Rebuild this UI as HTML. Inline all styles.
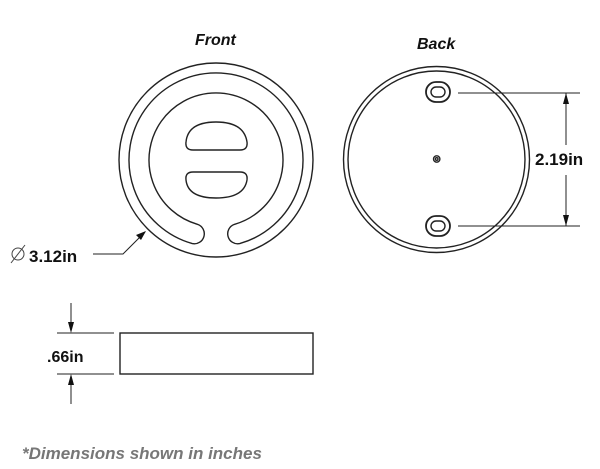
<!DOCTYPE html>
<html><head><style>
html,body{margin:0;padding:0;background:#fff;}
svg{display:block;}
</style></head><body>
<svg width="600" height="469" viewBox="0 0 600 469" xmlns="http://www.w3.org/2000/svg">
<g fill="none" stroke="#222" stroke-width="1.4">
<circle cx="216" cy="160" r="97"/>
<path d="M192.3 243.6 A87 87 0 1 1 239.7 243.6 A10 10 0 0 1 234.3 224.4 A67 67 0 1 0 197.7 224.4 A10 10 0 0 1 192.3 243.6 Z"/>
<path d="M193 150 L240 150 Q248 150 247 142 Q244 122 216 122 Q188 122 186 142 Q185 150 193 150 Z"/>
<path d="M193 172 L240 172 Q248 172 247 180 Q244 198 216 198 Q188 198 186 180 Q185 172 193 172 Z"/>
<circle cx="436.5" cy="159.5" r="93"/>
<circle cx="436.5" cy="159.5" r="88.5"/>
<rect x="426" y="82" width="24" height="20" rx="10" stroke-width="1.8"/>
<rect x="431" y="87" width="14" height="10" rx="5"/>
<rect x="426" y="216" width="24" height="20" rx="10" stroke-width="1.8"/>
<rect x="431" y="221" width="14" height="10" rx="5"/>
<circle cx="436.7" cy="159" r="3.2"/>
<circle cx="436.7" cy="159" r="1.3"/>
<line x1="458" y1="93" x2="580" y2="93" stroke-width="1"/>
<line x1="458" y1="226" x2="580" y2="226" stroke-width="1"/>
<line x1="566" y1="93" x2="566" y2="145" stroke-width="1"/>
<line x1="566" y1="175" x2="566" y2="226" stroke-width="1"/>
<polyline points="93,254 123,254 145,232" stroke-width="1"/>
<rect x="120" y="333" width="193" height="41"/>
<line x1="57" y1="333" x2="114" y2="333" stroke-width="1"/>
<line x1="57" y1="374" x2="114" y2="374" stroke-width="1"/>
<line x1="71" y1="303" x2="71" y2="325" stroke-width="1"/>
<line x1="71" y1="382" x2="71" y2="404" stroke-width="1"/>
</g>
<g fill="#111">
<polygon points="566,93 563,104 569,104"/>
<polygon points="566,226 563,215 569,215"/>
<polygon points="146,231 136,235 141,240"/>
<polygon points="71,333 68,322 74,322"/>
<polygon points="71,374 68,385 74,385"/>
</g>
<g font-family="Liberation Sans, sans-serif" font-weight="bold" fill="#111">
<text x="195" y="45" font-size="16" font-style="italic">Front</text>
<text x="417" y="49" font-size="16" font-style="italic">Back</text>
<text x="535" y="165" font-size="17">2.19in</text>
<text x="29" y="262" font-size="17">3.12in</text>
<text x="47" y="362" font-size="16">.66in</text>
<text x="22" y="459" font-size="17" font-style="italic" fill="#777">*Dimensions shown in inches</text>
</g>
<g fill="none" stroke="#444" stroke-width="1">
<circle cx="18" cy="254" r="6"/>
<line x1="11" y1="263" x2="25" y2="245"/>
</g>
</svg>
</body></html>
